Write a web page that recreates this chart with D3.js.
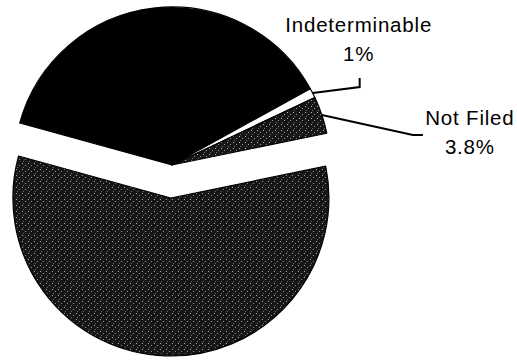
<!DOCTYPE html>
<html>
<head>
<meta charset="utf-8">
<script src="https://cdn.jsdelivr.net/npm/d3@7"></script>
<style>
  html, body { margin: 0; padding: 0; background: #fff; }
  svg { display: block; }
  text { font-family: "Liberation Sans", Arial, Helvetica, sans-serif; fill: #000; }
</style>
</head>
<body>
<svg id="chart" width="517" height="360"></svg>
<script>
// Slice shares (percent), clockwise from the black slice
const categories = ["Filed", "Indeterminable", "Not Filed", "Other"];
const values = [37.7, 1, 3.8, 57.5];
const labelNames = ["", "Indeterminable", "Not Filed", ""];
const labelValues = ["", "1%", "3.8%", ""];

const width = 517, height = 360;
const cx = 172, cy = 165, radius = 158;
const explodeIndex = 3, explodeDist = 33;
const startDeg = -74.6;

const svg = d3.select("#chart");
const defs = svg.append("defs");

// speckled dark fill for the grey slices
const pat = defs.append("pattern")
  .attr("id", "speckle").attr("patternUnits", "userSpaceOnUse")
  .attr("width", 6).attr("height", 6);
pat.append("rect").attr("width", 6).attr("height", 6).attr("fill", "#161616");
pat.append("rect").attr("x", 1).attr("y", 1).attr("width", 1).attr("height", 1).attr("fill", "#b4b4b4");
pat.append("rect").attr("x", 4).attr("y", 3).attr("width", 1).attr("height", 1).attr("fill", "#9a9a9a");
pat.append("rect").attr("x", 2).attr("y", 5).attr("width", 1).attr("height", 1).attr("fill", "#707070");

const fills = ["#000", "#fff", "url(#speckle)", "url(#speckle)"];

const pie = d3.pie().sort(null)
  .startAngle(startDeg * Math.PI / 180)
  .endAngle(startDeg * Math.PI / 180 + 2 * Math.PI);
const arcs = pie(values);
const arc = d3.arc().innerRadius(0).outerRadius(radius);

const g = svg.append("g").attr("transform", `translate(${cx},${cy})`);

g.selectAll("path.slice")
  .data(arcs)
  .join("path")
  .attr("class", "slice")
  .attr("transform", (d, i) => {
    if (i !== explodeIndex) return null;
    const mid = (d.startAngle + d.endAngle) / 2;
    return `translate(${explodeDist * Math.sin(mid)},${-explodeDist * Math.cos(mid)})`;
  })
  .attr("d", arc)
  .attr("fill", (d, i) => fills[i])
  .attr("stroke", "#000")
  .attr("stroke-width", 1.2)
  .attr("stroke-linejoin", "round");

// leader lines and labels for the two small slices
function edgePoint(d) {
  const mid = (d.startAngle + d.endAngle) / 2;
  return [radius * Math.sin(mid), -radius * Math.cos(mid)];
}
const leaders = [
  null,
  { elbow: [47, -6], end: [47, -15], text: [46, -61], anchor: "middle" },
  { elbow: [91, 20], end: [101, 20], text: [148, 10], anchor: "middle" },
  null
];
const lineHeight = 28.5;

arcs.forEach((d, i) => {
  const L = leaders[i];
  if (!L) return;
  const p = edgePoint(d);
  const e = [p[0] + L.elbow[0], p[1] + L.elbow[1]];
  const f = [p[0] + L.end[0], p[1] + L.end[1]];
  g.append("path")
    .attr("d", d3.line()([p, e, f]))
    .attr("fill", "none")
    .attr("stroke", "#000")
    .attr("stroke-width", 2);
  const t = g.append("text")
    .attr("x", p[0] + L.text[0])
    .attr("y", p[1] + L.text[1])
    .attr("text-anchor", L.anchor)
    .attr("font-size", 20.5)
    .attr("letter-spacing", 0.8);
  t.append("tspan").attr("x", p[0] + L.text[0]).text(labelNames[i]);
  t.append("tspan").attr("x", p[0] + L.text[0]).attr("dy", lineHeight).text(labelValues[i]);
});
</script>
</body>
</html>
